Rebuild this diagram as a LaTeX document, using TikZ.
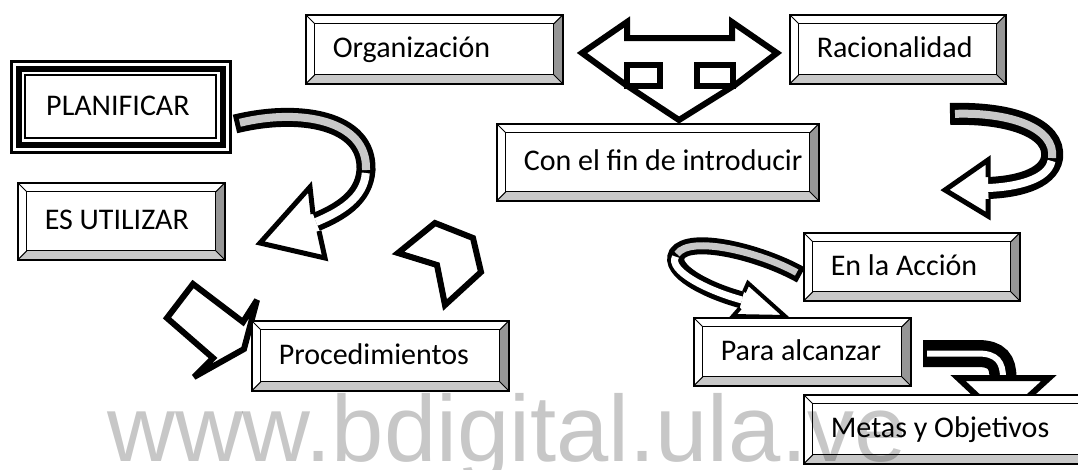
\documentclass[tikz,border=0pt]{standalone}
\usepackage{fontspec}
\setmainfont{Carlito}
\newfontfamily\markfont{Liberation Sans}
\usetikzlibrary{backgrounds}

\definecolor{bevellight}{RGB}{200,200,200}
\definecolor{beveldark}{RGB}{150,150,150}
\definecolor{ribbongray}{RGB}{200,200,200}
\newcommand{\boxfont}{\fontsize{30}{34}\selectfont}

\begin{document}
\begin{tikzpicture}[x=1pt, y=-1pt,
    bevelbox/.style 2 args={draw, line width=1.6pt, fill=white, anchor=north west,
      minimum width=#1pt, minimum height=#2pt, text width=#1pt,
      inner sep=0pt, align=flush left, font=\boxfont, text height=22pt, text depth=5pt,
      execute at begin node={\hspace*{27pt}},
      path picture={
        \coordinate (p1) at (path picture bounding box.south west);
        \coordinate (p2) at (path picture bounding box.south east);
        \coordinate (p3) at (path picture bounding box.north east);
        \coordinate (p4) at (path picture bounding box.north west);
        \fill[bevellight] (p1) -- (p2) -- ([shift={(-9pt,9pt)}]p2) -- ([shift={(9pt,9pt)}]p1) -- cycle;
        \fill[beveldark] (p2) -- (p3) -- ([shift={(-9pt,-9pt)}]p3) -- ([shift={(-9pt,9pt)}]p2) -- cycle;
        \draw[line width=1.2pt] ([shift={(9pt,9pt)}]p1) rectangle ([shift={(-9pt,-9pt)}]p3);
        \draw[line width=1pt] (p1) -- ++(9pt,9pt) (p2) -- ++(-9pt,9pt)
          (p3) -- ++(-9pt,-9pt) (p4) -- ++(9pt,-9pt);
      }},
    tripbox/.style={draw, line width=2.5pt, fill=white, anchor=north west,
      minimum width=219pt, minimum height=91pt, text width=219pt,
      inner sep=0pt, align=flush left, font=\boxfont, text height=22pt, text depth=5pt,
      execute at begin node={\hspace*{35pt}},
      path picture={
        \draw[line width=6.5pt] ([shift={(7.5pt,-7.5pt)}]path picture bounding box.north west)
          rectangle ([shift={(-7.5pt,7.5pt)}]path picture bounding box.south east);
        \draw[line width=2.2pt] ([shift={(14pt,-14pt)}]path picture bounding box.north west)
          rectangle ([shift={(-14pt,14pt)}]path picture bounding box.south east);
      }},
    ribbon/.style={draw=black, line width=#1pt, line cap=butt},
    core/.style={draw=#1, line width=8pt, line cap=butt},
    arrowhead/.style={fill=white, draw=black, line width=5pt, line join=miter},
    block/.style={fill=white, draw=black, line width=6pt, line join=miter, miter limit=4},
    watermark/.style={font=\markfont\fontsize{94}{96}\selectfont, text=black,
      text opacity=0.22, inner sep=0pt, anchor=base west}]

  \useasboundingbox (0,0) rectangle (1078,469);

  % Left column
  \node[tripbox] (plan) at (10,60) {PLANIFICAR};
  \node[bevelbox={207}{77}] (util) at (17,182) {ES UTILIZAR};
  \node[bevelbox={257}{70}] (proc) at (251,320) {Procedimientos};

  % Top row
  \node[bevelbox={257}{69}] (org) at (305,14) {Organización};
  \node[bevelbox={216}{69}] (rac) at (789,14) {Racionalidad};
  \node[bevelbox={322}{77}] (fin) at (496,123) {Con el fin de introducir};

  % Right column
  \node[bevelbox={216}{68}] (acc) at (803,232) {En la Acción};
  \node[bevelbox={217}{68}] (alc) at (693,317) {Para alcanzar};
  \node[bevelbox={300}{69}] (metas) at (803,394) {Metas y Objetivos};

  \begin{scope}[on background layer]
    % T arrow between Organización and Racionalidad
    \draw[block] (582,53) -- (627,22) -- (627,38) -- (732,38) -- (732,22) -- (777,53)
      -- (735,85) -- (679,120) -- (626,85) -- cycle;
    \draw[block] (627,65) rectangle (660,86);
    \draw[block] (697,65) rectangle (733,86);

    % Curved arrow out of PLANIFICAR
    \draw[ribbon=19] (235,124) .. controls (300,108) and (368,120) .. (366,170)
      .. controls (364,198) and (340,212) .. (316,222);
    \draw[core=ribbongray, shorten <=5pt] (235,124) .. controls (300,108) and (368,120) .. (366,170);
    \draw[core=white, shorten <=3pt] (366,170) .. controls (364,198) and (340,212) .. (316,222);
    \filldraw[arrowhead] (313,214) -- (310,187) -- (260,243) -- (325,258) -- (319,231);

    % Curved arrow under Racionalidad
    \draw[ribbon=22] (950,114) .. controls (1010,112) and (1056,128) .. (1052,158)
      .. controls (1048,180) and (1015,187) .. (988,188);
    \draw[core=ribbongray, shorten <=5pt] (950,114) .. controls (1010,112) and (1056,128) .. (1052,158);
    \draw[core=white, shorten <=3pt] (1052,158) .. controls (1048,180) and (1015,187) .. (988,188);
    \filldraw[arrowhead] (988,177) -- (988,160) -- (945,190) -- (988,216) -- (988,199);

    % Loop from En la Acción to Para alcanzar
    \draw[ribbon=17] (801,275) .. controls (760,252) and (690,235) .. (677,254)
      .. controls (668,270) and (705,290) .. (742,300);
    \draw[core=ribbongray, line width=7pt, shorten <=5pt] (801,275) .. controls (760,252) and (690,235) .. (677,254);
    \draw[core=white, line width=7pt, shorten <=3pt] (677,254) .. controls (668,270) and (705,290) .. (742,300);
    \filldraw[arrowhead, line width=4pt] (744,292) -- (748,283) -- (786,317) -- (733,316) -- (740,308);

    % Bent arrow down to Metas y Objetivos
    \draw[ribbon=27] (923,353.5) -- (978,353.5) .. controls (997,353.5) and (1003,362) .. (1003,378);
    \draw[core=white, line width=6pt, shorten <=4pt] (923,353.5) -- (978,353.5)
      .. controls (997,353.5) and (1003,362) .. (1003,378);
    \filldraw[arrowhead, line width=6pt] (958,378) -- (1049,378) -- (1003,420) -- cycle;

    % Block arrow into Procedimientos
    \draw[block] (193,284) -- (243,322) -- (257,300) -- (244,349) -- (194,377)
      -- (213,358) -- (167,318) -- cycle;

    % Loose arrow head
    \draw[block] (398,253) -- (435,223) -- (473,238) -- (481,272) -- (445,305) -- (437,265) -- cycle;
  \end{scope}

  % Watermark
  \node[watermark] (wm) at (107,461) {www.bdigital.ula.ve};
\end{tikzpicture}
\end{document}
